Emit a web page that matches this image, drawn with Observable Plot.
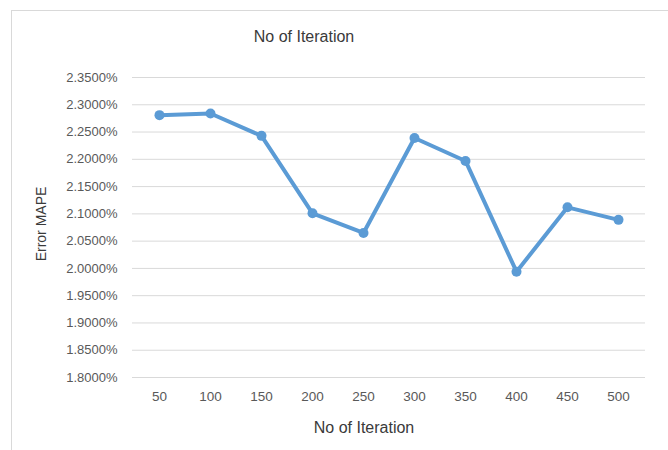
<!DOCTYPE html>
<html>
<head>
<meta charset="utf-8">
<script src="https://cdn.jsdelivr.net/npm/d3@7"></script>
<script src="https://cdn.jsdelivr.net/npm/@observablehq/plot@0.6"></script>
<style>
  html, body { margin: 0; padding: 0; background: #fff; }
  #wrap { position: relative; width: 668px; height: 450px; overflow: hidden; font-family: "Liberation Sans", Arial, sans-serif; }
  #wrap svg { position: absolute; left: 0; top: 0; }
  .border { position: absolute; left: 11px; top: 10px; width: 700px; height: 500px; border-left: 1.5px solid #d9d9d9; border-top: 1.5px solid #d9d9d9; box-sizing: border-box; }
  .ttl { position: absolute; white-space: nowrap; transform: translate(-50%, -50%); color: #3a3a3a; }
</style>
</head>
<body>
<div id="wrap">
  <div class="border"></div>
</div>
<script>
const chartTitle = "No of Iteration";
const xTitle = "No of Iteration";
const yTitle = "Error MAPE";
const iterations = [50, 100, 150, 200, 250, 300, 350, 400, 450, 500];
const mape = [2.281, 2.284, 2.243, 2.101, 2.065, 2.239, 2.197, 1.994, 2.112, 2.089];
const yTicks = [1.80, 1.85, 1.90, 1.95, 2.00, 2.05, 2.10, 2.15, 2.20, 2.25, 2.30, 2.35];

const data = iterations.map((it, i) => ({iter: it, value: mape[i]}));

const chart = Plot.plot({
  width: 668,
  height: 450,
  marginLeft: 132,
  marginRight: 23,
  marginTop: 77,
  marginBottom: 73,
  style: {fontFamily: "'Liberation Sans', Arial, sans-serif", fontSize: "13px", color: "#595959", background: "transparent", overflow: "visible"},
  x: {type: "point", domain: iterations, padding: 0.5},
  y: {domain: [yTicks[0], yTicks[yTicks.length - 1]]},
  marks: [
    Plot.gridY(yTicks, {stroke: "#d9d9d9", strokeOpacity: 1, strokeWidth: 1}),
    Plot.axisY({ticks: yTicks, tickSize: 0, tickPadding: 15, label: null, tickFormat: d => d.toFixed(4) + "%", fill: "#595959", fontSize: 13}),
    Plot.axisX({tickSize: 0, tickPadding: 14, label: null, fill: "#595959", fontSize: 13.5}),
    Plot.line(data, {x: "iter", y: "value", stroke: "#5B9BD5", strokeWidth: 4, strokeLinejoin: "round"}),
    Plot.dot(data, {x: "iter", y: "value", r: 5, fill: "#5B9BD5", stroke: "none"})
  ]
});

const wrap = document.getElementById("wrap");
wrap.appendChild(chart);

function addTitle(text, cx, cy, size, rotate) {
  const d = document.createElement("div");
  d.className = "ttl";
  d.textContent = text;
  d.style.left = cx + "px";
  d.style.top = cy + "px";
  d.style.fontSize = size + "px";
  if (rotate) d.style.transform = "translate(-50%, -50%) rotate(-90deg)";
  wrap.appendChild(d);
}
addTitle(chartTitle, 304, 37, 16, false);
addTitle(xTitle, 364, 428, 16, false);
addTitle(yTitle, 41, 224, 14, true);
</script>
</body>
</html>
